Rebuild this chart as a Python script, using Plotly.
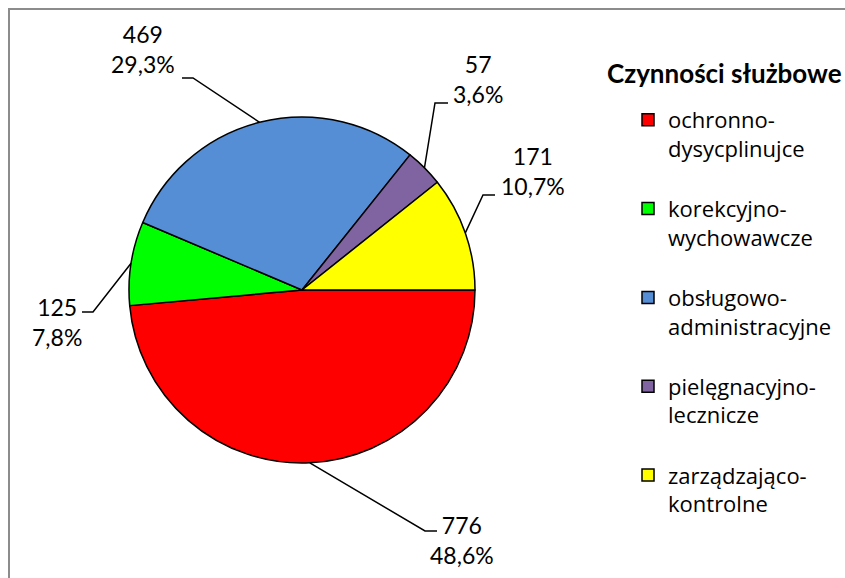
import math
import plotly.graph_objects as go

# data
categories = [
    "ochronno-<br>dysycplinujce",
    "korekcyjno-<br>wychowawcze",
    "obsługowo-<br>administracyjne",
    "pielęgnacyjno-<br>lecznicze",
    "zarządzająco-<br>kontrolne",
]
values = [776, 125, 469, 57, 171]
colors = ["#FF0000", "#00FF00", "#558ED5", "#8064A2", "#FFFF00"]
legend_title = "Czynności służbowe"

# layout in pixels (845x578 page)
W, H = 845, 578
center = (302, 290)
radius = 173
# label centres and the elbow / end of each leader line
label_pos = [(462, 540), (57, 322), (143, 49), (478, 79), (533, 171)]
elbows = [(425, 531), (93, 312), (193, 78), (435, 103), (483, 195)]
line_ends = [(437, 531), (82, 312), (182, 78), (448, 103), (495, 195)]

FONT = "Lato, 'Open Sans', sans-serif"


def px(x):
    return x / W


def py(y):
    return 1 - y / H


total = sum(values)

fig = go.Figure(
    go.Pie(
        labels=[c + "<br> " for c in categories],
        values=values,
        sort=False,
        direction="clockwise",
        rotation=90,
        marker=dict(colors=colors, line=dict(color="black", width=1.5)),
        textinfo="none",
        hovertemplate="%{label}: %{value} (%{percent})<extra></extra>",
        domain=dict(
            x=[px(center[0] - radius), px(center[0] + radius)],
            y=[py(center[1] + radius), py(center[1] - radius)],
        ),
    )
)

# data labels with leader lines, anchored on the middle of each slice edge
cum = 0
for v, (lx, ly), (ex, ey), (tx, ty) in zip(values, label_pos, elbows, line_ends):
    mid = (cum + v / 2) / total
    cum += v
    ang = math.radians(-mid * 360)  # clockwise from 3 o'clock
    sx = center[0] + radius * math.cos(ang)
    sy = center[1] - radius * math.sin(ang)
    fig.add_shape(
        type="path",
        xref="paper",
        yref="paper",
        path=f"M {px(sx)},{py(sy)} L {px(ex)},{py(ey)} L {px(tx)},{py(ty)}",
        line=dict(color="black", width=1.5),
    )
    pct = f"{v / total * 100:.1f}".replace(".", ",")
    fig.add_annotation(
        x=px(lx),
        y=py(ly),
        xref="paper",
        yref="paper",
        text=f"{v}<br>{pct}%",
        showarrow=False,
        xanchor="center",
        yanchor="middle",
        font=dict(size=23, color="black", family=FONT),
    )

fig.add_annotation(
    x=px(724),
    y=py(73),
    xref="paper",
    yref="paper",
    text=f"<b>{legend_title}</b>",
    showarrow=False,
    xanchor="center",
    yanchor="middle",
    font=dict(size=26, color="black", family=FONT),
)

# chart area border (cut off on the right and bottom)
fig.add_shape(
    type="rect",
    xref="paper",
    yref="paper",
    x0=px(9),
    y0=-0.05,
    x1=1.05,
    y1=py(9),
    line=dict(color="#8C8C8C", width=2),
)

fig.update_layout(
    width=W,
    height=H,
    margin=dict(l=0, r=0, t=0, b=0),
    paper_bgcolor="white",
    plot_bgcolor="white",
    showlegend=True,
    legend=dict(
        x=px(628),
        y=py(99),
        xanchor="left",
        yanchor="top",
        valign="top",
        font=dict(size=22, color="black", family="'Open Sans', sans-serif"),
        bgcolor="rgba(0,0,0,0)",
    ),
)

# drop the default body margin so the figure fills the window exactly
fig.write_html(
    "out.html",
    config={"displayModeBar": False},
    post_script="document.body.style.margin = '0';",
)
